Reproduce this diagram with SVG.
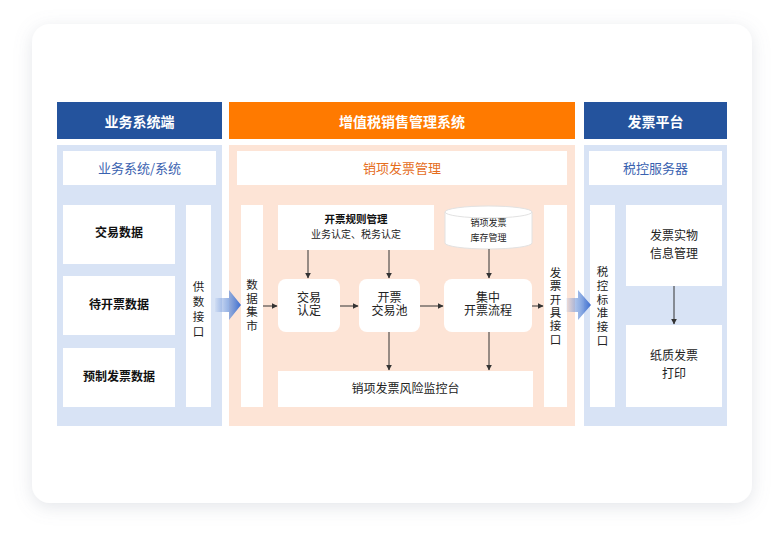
<svg xmlns="http://www.w3.org/2000/svg" width="784" height="544" viewBox="0 0 784 544">
<defs>
<filter id="shadow" x="-10%" y="-10%" width="120%" height="125%">
<feDropShadow dx="0" dy="4" stdDeviation="9" flood-color="#8a94a6" flood-opacity="0.24"/>
</filter>
<linearGradient id="bigArrow" x1="0" y1="0" x2="1" y2="0">
<stop offset="0" stop-color="#4a78d0" stop-opacity="0.05"/>
<stop offset="0.55" stop-color="#6f97dc" stop-opacity="0.75"/>
<stop offset="1" stop-color="#3d6dcf"/>
</linearGradient>
<marker id="ah" viewBox="0 0 10 10" refX="9" refY="5" markerWidth="6" markerHeight="6" orient="auto" markerUnits="userSpaceOnUse">
<path d="M0,0 L10,5 L0,10 Z" fill="#333"/>
</marker>
<style>
text{font-family:"Noto Sans CJK SC","Noto Sans",sans-serif;}
.hdr{font-size:14px;font-weight:bold;fill:#fff;text-anchor:middle;}
.sub{font-size:13px;text-anchor:middle;}
.blue{fill:#3a62b0;}
.orange{fill:#e56d1c;}
.bold{font-size:12px;font-weight:bold;fill:#111;text-anchor:middle;}
.t{font-size:12px;fill:#222;text-anchor:middle;}
.v{font-size:11.5px;fill:#222;text-anchor:middle;}
.s{font-size:10px;fill:#222;text-anchor:middle;}
.xs{font-size:9px;fill:#222;text-anchor:middle;}
.box{fill:#fff;}
.line{stroke:#333;stroke-width:1;fill:none;marker-end:url(#ah);}
</style>
</defs>
<rect width="784" height="544" fill="#fff"/>
<rect x="32" y="24" width="720" height="479" rx="18" fill="#fff" filter="url(#shadow)"/>

<g id="left">
<rect x="57" y="102" width="165" height="37" fill="#24539d"/>
<text class="hdr" x="139.5" y="126.5">业务系统端</text>
<rect x="57" y="145" width="165" height="281" fill="#d8e3f5"/>
<rect class="box" x="63" y="151" width="153" height="34"/>
<text class="sub blue" x="139.5" y="172.5">业务系统/系统</text>
<g id="n-jiaoyi"><rect class="box" x="63" y="205" width="112" height="59"/><text class="bold" x="119" y="237">交易数据</text></g>
<g id="n-daikai"><rect class="box" x="63" y="276" width="112" height="59"/><text class="bold" x="119" y="309">待开票数据</text></g>
<g id="n-yuzhi"><rect class="box" x="63" y="348" width="112" height="59"/><text class="bold" x="119" y="381">预制发票数据</text></g>
<g id="n-gongshu"><rect class="box" x="186" y="205" width="25" height="202"/>
<text class="v" x="198.5" y="291"><tspan x="198.5">供</tspan><tspan x="198.5" dy="15">数</tspan><tspan x="198.5" dy="15">接</tspan><tspan x="198.5" dy="15">口</tspan></text></g>
</g>

<g id="middle">
<rect x="229" y="102" width="346" height="37" fill="#ff7a00"/>
<text class="hdr" x="402" y="126.5">增值税销售管理系统</text>
<rect x="229" y="145" width="346" height="281" fill="#fde4d6"/>
<rect class="box" x="237" y="151" width="330" height="34"/>
<text class="sub orange" x="402" y="172.5">销项发票管理</text>
<g id="n-shuju"><rect class="box" x="241" y="205" width="22" height="202"/>
<text class="v" x="252" y="289"><tspan x="252">数</tspan><tspan x="252" dy="13.7">据</tspan><tspan x="252" dy="13.7">集</tspan><tspan x="252" dy="13.7">市</tspan></text></g>
<g id="n-guize"><rect class="box" x="278" y="205" width="156" height="45"/>
<text x="356" y="223" style="font-size:10.5px;font-weight:bold;fill:#111;text-anchor:middle">开票规则管理</text>
<text class="s" x="356" y="238">业务认定、税务认定</text></g>
<g id="n-kucun">
<path d="M445,212 L445,243 A43.5,6 0 0 0 532,243 L532,212 Z" fill="#fff" stroke="#e2e2e2" stroke-width="1"/>
<ellipse cx="488.5" cy="212" rx="43.5" ry="6" fill="#fff" stroke="#e2e2e2" stroke-width="1"/>
<text class="xs" x="488.5" y="226">销项发票</text>
<text class="xs" x="488.5" y="241">库存管理</text></g>
<g id="n-kaiju"><rect class="box" x="544" y="205" width="23" height="202"/>
<text class="v" x="555.5" y="277"><tspan x="555.5">发</tspan><tspan x="555.5" dy="13.3">票</tspan><tspan x="555.5" dy="13.3">开</tspan><tspan x="555.5" dy="13.3">具</tspan><tspan x="555.5" dy="13.3">接</tspan><tspan x="555.5" dy="13.3">口</tspan></text></g>
<g id="n-rending"><rect class="box" x="278" y="279" width="62" height="53" rx="8"/>
<text class="t" x="309" y="302"><tspan x="309">交易</tspan><tspan x="309" dy="13">认定</tspan></text></g>
<g id="n-chi"><rect class="box" x="359" y="279" width="61" height="53" rx="8"/>
<text class="t" x="389.5" y="302"><tspan x="389.5">开票</tspan><tspan x="389.5" dy="13">交易池</tspan></text></g>
<g id="n-jizhong"><rect class="box" x="444" y="279" width="88" height="53" rx="8"/>
<text class="t" x="488" y="302"><tspan x="488">集中</tspan><tspan x="488" dy="13">开票流程</tspan></text></g>
<g id="n-fengxian"><rect class="box" x="278" y="371" width="255" height="36"/>
<text class="t" x="405.5" y="393">销项发票风险监控台</text></g>
</g>

<g id="right">
<rect x="584" y="102" width="143" height="37" fill="#24539d"/>
<text class="hdr" x="655.5" y="126.5">发票平台</text>
<rect x="584" y="145" width="143" height="281" fill="#d8e3f5"/>
<rect class="box" x="589" y="151" width="133" height="34"/>
<text class="sub blue" x="655.5" y="172.5">税控服务器</text>
<g id="n-biaozhun"><rect class="box" x="590" y="205" width="25" height="202"/>
<text class="v" x="602.5" y="276"><tspan x="602.5">税</tspan><tspan x="602.5" dy="13.8">控</tspan><tspan x="602.5" dy="13.8">标</tspan><tspan x="602.5" dy="13.8">准</tspan><tspan x="602.5" dy="13.8">接</tspan><tspan x="602.5" dy="13.8">口</tspan></text></g>
<g id="n-shiwu"><rect class="box" x="626" y="205" width="96" height="81"/>
<text class="t" x="674" y="240"><tspan x="674">发票实物</tspan><tspan x="674" dy="18">信息管理</tspan></text></g>
<g id="n-dayin"><rect class="box" x="626" y="325" width="96" height="82"/>
<text class="t" x="674" y="360"><tspan x="674">纸质发票</tspan><tspan x="674" dy="18">打印</tspan></text></g>
</g>

<g id="connectors">
<path d="M215,298 L229,298 L229,290 L241,305 L229,320 L229,312 L215,312 Z" fill="url(#bigArrow)"/>
<path d="M566,298 L578,298 L578,290 L591,305 L578,320 L578,312 L566,312 Z" fill="url(#bigArrow)"/>
<line class="line" x1="308" y1="250" x2="308" y2="278"/>
<line class="line" x1="389" y1="250" x2="389" y2="278"/>
<line class="line" x1="489" y1="249" x2="489" y2="278"/>
<line class="line" x1="263" y1="306" x2="277" y2="306"/>
<line class="line" x1="340" y1="306" x2="358" y2="306"/>
<line class="line" x1="420" y1="306" x2="443" y2="306"/>
<line class="line" x1="532" y1="306" x2="543" y2="306"/>
<line class="line" x1="389" y1="332" x2="389" y2="370"/>
<line class="line" x1="489" y1="332" x2="489" y2="370"/>
<line class="line" x1="674" y1="286" x2="674" y2="324"/>
</g>
</svg>
